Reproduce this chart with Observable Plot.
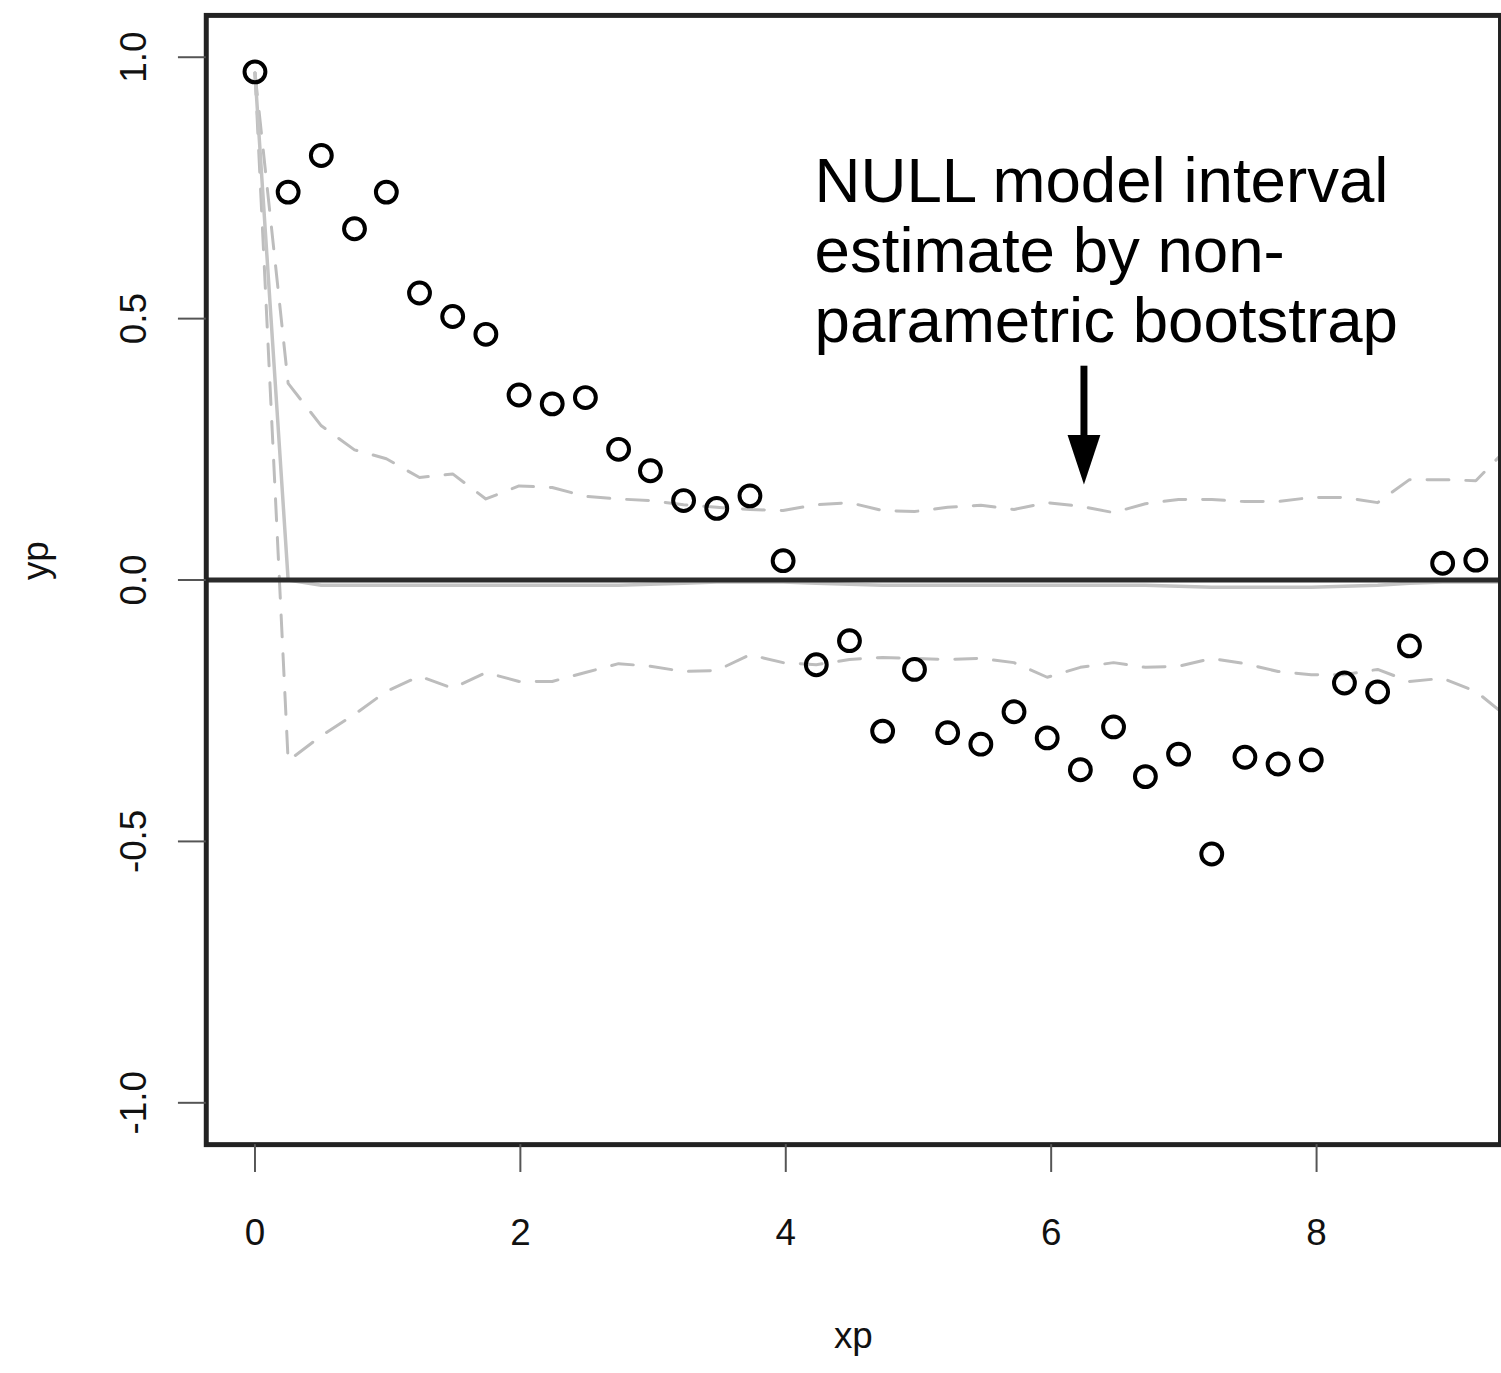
<!DOCTYPE html>
<html>
<head>
<meta charset="utf-8">
<script src="https://cdn.jsdelivr.net/npm/d3@7"></script>
<script src="https://cdn.jsdelivr.net/npm/@observablehq/plot@0.6"></script>
<style>
html, body { margin: 0; padding: 0; background: #fff; overflow: hidden; }
#chart svg { display: block; }
</style>
</head>
<body>
<div id="chart"></div>
<script>
// Observed points
const xp = [0, 0.25, 0.50, 0.75, 0.99, 1.24, 1.49, 1.74, 1.99, 2.24, 2.49, 2.74, 2.98, 3.23, 3.48, 3.73,
  3.98, 4.23, 4.48, 4.73, 4.97, 5.22, 5.47, 5.72, 5.97, 6.22, 6.47, 6.71, 6.96, 7.21, 7.46, 7.71,
  7.96, 8.21, 8.46, 8.70, 8.95, 9.20];
const yp = [0.972, 0.742, 0.812, 0.672, 0.742, 0.549, 0.504, 0.470, 0.354, 0.337, 0.349, 0.250,
  0.209, 0.152, 0.137, 0.161, 0.037, -0.162, -0.116, -0.289, -0.171, -0.292, -0.314, -0.252,
  -0.302, -0.363, -0.281, -0.376, -0.333, -0.524, -0.339, -0.352, -0.344, -0.197, -0.214,
  -0.126, 0.032, 0.038];

// Null-model bootstrap envelope (lags)
const envX = [0, 0.25, 0.50, 0.75, 0.99, 1.24, 1.49, 1.74, 1.99, 2.24, 2.49, 2.74, 2.98, 3.23, 3.48, 3.73,
  3.98, 4.23, 4.48, 4.73, 4.97, 5.22, 5.47, 5.72, 5.97, 6.22, 6.47, 6.71, 6.96, 7.21, 7.46, 7.71,
  7.96, 8.21, 8.46, 8.70, 8.95, 9.20, 9.45];
const upper = [0.97, 0.376, 0.295, 0.249, 0.232, 0.196, 0.203, 0.155, 0.180, 0.177, 0.160, 0.155,
  0.152, 0.144, 0.139, 0.135, 0.133, 0.144, 0.148, 0.133, 0.131, 0.139, 0.143, 0.135, 0.148,
  0.141, 0.129, 0.146, 0.154, 0.154, 0.150, 0.150, 0.158, 0.158, 0.148, 0.192, 0.192, 0.190, 0.255];
const lower = [0.97, -0.346, -0.298, -0.257, -0.213, -0.184, -0.207, -0.177, -0.194, -0.194, -0.177,
  -0.160, -0.165, -0.175, -0.173, -0.143, -0.158, -0.162, -0.152, -0.148, -0.150, -0.152, -0.150,
  -0.158, -0.186, -0.167, -0.158, -0.167, -0.165, -0.150, -0.160, -0.175, -0.181, -0.181, -0.171,
  -0.194, -0.188, -0.213, -0.264];
const median = [0.97, 0.0, -0.010, -0.010, -0.010, -0.010, -0.010, -0.010, -0.010, -0.010, -0.010,
  -0.010, -0.008, -0.006, -0.004, -0.004, -0.004, -0.006, -0.008, -0.010, -0.010, -0.010, -0.010,
  -0.010, -0.010, -0.010, -0.010, -0.010, -0.012, -0.014, -0.014, -0.014, -0.014, -0.012, -0.010,
  -0.006, -0.004, -0.004, -0.004];

// Axes
const xTicks = [0, 2, 4, 6, 8];
const xTickLabels = ["0", "2", "4", "6", "8"];
const yTicks = [-1, -0.5, 0, 0.5, 1];
const yTickLabels = ["-1.0", "-0.5", "0.0", "0.5", "1.0"];
const xLabel = "xp";
const yLabel = "yp";

// Annotation
const annText = "NULL model interval\nestimate by non-\nparametric bootstrap";
const annX = 4.217;
const annY = 0.8175;
const arrowX = 6.247;
const arrowTop = 0.409;
const arrowHeadBase = 0.262;
const arrowTip = 0.1825;

const points = xp.map((x, i) => ({x, y: yp[i]}));
const env = envX.map((x, i) => ({x, upper: upper[i], lower: lower[i], median: median[i]}));

const font = "'Liberation Sans', Arial, Helvetica, sans-serif";

const headSymbol = {
  draw(context) {
    context.moveTo(0, 0);
    context.lineTo(-16.5, -50);
    context.lineTo(16.5, -50);
    context.closePath();
  }
};

const chart = Plot.plot({
  width: 1510,
  height: 1373,
  marginLeft: 207,
  marginRight: 1,
  marginTop: 15,
  marginBottom: 222,
  style: {fontFamily: font, background: "#fff"},
  x: {domain: [-0.367, 9.386]},
  y: {domain: [-1.08, 1.08]},
  marks: [
    Plot.line(env, {x: "x", y: "upper", stroke: "#bdbdbd", strokeWidth: 3, strokeDasharray: "22,17", clip: true}),
    Plot.line(env, {x: "x", y: "lower", stroke: "#bdbdbd", strokeWidth: 3, strokeDasharray: "22,17", clip: true}),
    Plot.line(env, {x: "x", y: "median", stroke: "#c4c4c4", strokeWidth: 3.5, clip: true}),
    Plot.ruleY([0], {stroke: "#2b2b2b", strokeWidth: 5}),
    Plot.dot(points, {x: "x", y: "y", r: 10.5, stroke: "black", strokeWidth: 4, fill: "none"}),
    Plot.frame({stroke: "#222", strokeWidth: 5}),
    Plot.axisY({ticks: yTicks, tickSize: 28, tickFormat: () => "", stroke: "#555", strokeWidth: 2, label: null}),
    Plot.axisX({ticks: xTicks, tickSize: 28, tickFormat: () => "", stroke: "#555", strokeWidth: 2, label: null}),
    Plot.text(yTicks, {y: d => d, text: yTickLabels, frameAnchor: "left", dx: -72, rotate: -90,
      fontSize: 37, textAnchor: "middle", lineAnchor: "middle", fill: "#111"}),
    Plot.text(xTicks, {x: d => d, text: xTickLabels, frameAnchor: "bottom", dy: 89,
      fontSize: 37, textAnchor: "middle", lineAnchor: "middle", fill: "#111"}),
    Plot.text([xLabel], {text: d => d, frameAnchor: "bottom", dy: 193, fontSize: 37, lineAnchor: "middle", fill: "#111"}),
    Plot.text([yLabel], {text: d => d, frameAnchor: "left", dx: -171, rotate: -90, fontSize: 37, lineAnchor: "middle", fill: "#111"}),
    Plot.text([{x: annX, y: annY, t: annText}], {x: "x", y: "y", text: "t", textAnchor: "start",
      lineAnchor: "top", fontSize: 64, lineHeight: 1.1, fill: "black"}),
    Plot.ruleX([arrowX], {x: d => d, y1: () => arrowTop, y2: () => arrowHeadBase, stroke: "black", strokeWidth: 7}),
    Plot.dot([{x: arrowX, y: arrowTip}], {x: "x", y: "y", symbol: headSymbol, r: 10, fill: "black", stroke: "none"})
  ]
});

document.getElementById("chart").appendChild(chart);
</script>
</body>
</html>
